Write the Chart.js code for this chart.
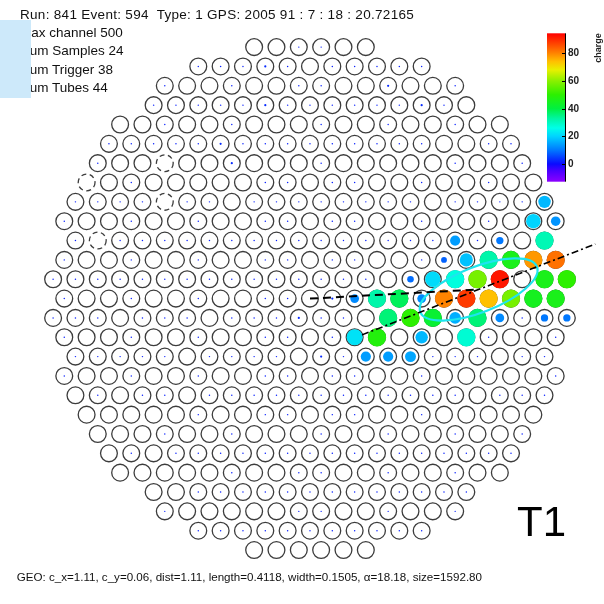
<!DOCTYPE html>
<html>
<head>
<meta charset="utf-8">
<script src="https://cdn.jsdelivr.net/npm/chart.js@4.4.1/dist/chart.umd.min.js"></script>
<style>
  html, body { margin: 0; padding: 0; background: #fff; overflow: hidden; }
  #wrap { position: relative; width: 604px; height: 604px; font-family: "Liberation Sans", Arial, sans-serif; color: #111; }
  #cam { position: absolute; left: 0; top: 0; }
  .t { position: absolute; white-space: pre; }
  .info { font-size: 13.5px; line-height: 13.5px; left: 20px; }
  .bar-label { font-size: 10px; line-height: 10px; font-weight: bold; color: #222; left: 568px; }
  #shade { position: absolute; left: 0; top: 20px; width: 31px; height: 78px; background: #cde9fa; }
</style>
</head>
<body>
<div id="wrap">
  <canvas id="cam" width="604" height="604"></canvas>
</div>
<script>
// ---- event header ----
const runLine = "Run: 841 Event: 594  Type: 1 GPS: 2005 91 : 7 : 18 : 20.72165";
const infoLines = ["Max channel 500", "Num Samples 24", "Num Trigger 38", "Num Tubes 44"];
const telescopeName = "T1";

// ---- camera layout: half-width of every pixel row (in pixel pitches), top row first ----
const rowHalfWidth = [2.5, 5, 6.5, 7, 8.5, 9, 9.5, 10, 10.5, 11, 10.5, 11, 11.5, 11,
                      11.5, 11, 10.5, 11, 10.5, 10, 9.5, 9, 8.5, 7, 6.5, 5, 2.5];

// ---- charge of every pixel, row by row, left to right ----
const chargeRows = [
  "0 0 2 2 0 0",
  "2 2 2 3 2 0 2 2 2 2 2",
  "2 0 0 2 0 0 2 2 0 0 3 0 0 2",
  "2 2 2 2 2 3 2 2 2 2 2 2 3 2 0",
  "0 0 2 0 0 2 0 0 0 2 0 0 2 0 0 2 0 0",
  "2 2 2 2 2 3 2 2 2 2 2 2 2 2 2 0 0 2 2",
  "2 0 0 0 0 0 3 0 0 0 2 0 0 0 0 0 2 0 0 2",
  "0 0 2 0 0 0 0 0 2 2 0 2 2 0 0 2 0 0 2 0 0",
  "2 2 2 2 0 2 2 0 2 2 2 2 2 2 2 2 0 2 2 2 2 17",
  "2 0 0 2 0 0 2 0 0 2 2 0 2 2 0 0 2 0 0 2 0 20 13",
  "2 0 2 2 2 2 2 2 2 2 2 2 2 2 2 2 2 14 2 10 0 31",
  "2 0 0 2 0 0 2 0 0 2 2 0 2 2 0 0 2 8 18 32 46 78 82",
  "2 2 2 2 2 2 2 2 2 2 2 2 2 2 2 0 9 21 27 58 92 0 46 50",
  "2 0 0 2 0 0 2 0 0 2 2 0 3 12 32 38 12 80 88 74 58 45 46",
  "2 2 2 0 2 2 2 0 2 2 2 3 2 2 0 36 50 42 16 36 12 2 10 10",
  "2 0 0 2 0 0 2 0 0 2 2 0 2 22 48 0 17 0 28 2 0 0 2",
  "2 2 2 2 2 0 2 2 2 2 0 3 2 14 14 15 2 2 2 0 2 2",
  "2 0 0 2 0 0 2 0 0 2 2 0 2 2 0 0 2 0 0 0 0 0 2",
  "0 2 0 2 2 0 2 2 2 2 2 2 2 2 2 2 2 2 0 2 2 2",
  "0 0 0 0 0 2 0 0 2 2 0 2 2 0 0 2 0 0 0 0 0",
  "0 0 0 2 0 0 2 0 0 0 2 0 0 2 0 0 2 0 0 2",
  "0 2 0 2 2 2 2 2 2 2 2 2 2 2 2 2 2 2 2",
  "0 0 0 0 0 2 0 0 2 2 0 0 2 0 0 2 0 0",
  "0 0 2 2 2 2 2 2 2 2 2 2 2 2 2",
  "2 0 0 0 0 0 2 2 0 0 2 0 0 2",
  "2 2 2 2 2 2 2 2 2 2 2",
  "0 0 0 0 0 0"
];

// pixels flagged as broken: [row, column position]
const brokenPixels = [[6, -6.5], [7, -10], [8, -6.5], [10, -9.5]];

// ---- Hillas parameters of the image ----
const HILLAS = { cx: 1.11, cy: 0.06, dist: 1.11, length: 0.4118, width: 0.1505, alpha: 18.18, size: 1592.80 };

// ---- colour scale ----
const chargeTicks = [0, 20, 40, 60, 80];
const CHARGE_RANGE = [-12.8, 94.4];
const PALETTE = [
  [-12.8, '#8c00ff'], [-5, '#4a00ff'], [0, '#0a0aff'], [10, '#0078ff'], [20, '#00d4ff'],
  [26, '#00ffe8'], [33, '#00f5a0'], [40, '#00f040'], [50, '#2cf000'], [60, '#8af000'],
  [68, '#e8f000'], [74, '#ffc000'], [81, '#ff7a00'], [88, '#ff3a00'], [94.4, '#ff0000']
];

// ---- geometry (degrees) ----
const PITCH_DEG = 0.147;
const ROW_STEP_DEG = PITCH_DEG * Math.sqrt(3) / 2;
const CENTER_ROW = 13;
const VIEW_X = [-2.04, 1.935];
const VIEW_Y = [-2.01, 1.965];
const OUTLINE_DEG = 0.0553;
const FILL_MAX_DEG = 0.0600;
const SIZE_SATURATION = 25;

function hexToRgb(h) { return [1, 3, 5].map(i => parseInt(h.substr(i, 2), 16)); }
function chargeColor(q) {
  const v = Math.max(CHARGE_RANGE[0], Math.min(CHARGE_RANGE[1], q));
  for (let i = 0; i < PALETTE.length - 1; i++) {
    const [v0, c0] = PALETTE[i], [v1, c1] = PALETTE[i + 1];
    if (v <= v1) {
      const f = (v - v0) / (v1 - v0);
      const a = hexToRgb(c0), b = hexToRgb(c1);
      return 'rgb(' + a.map((x, k) => Math.round(x + (b[k] - x) * f)).join(',') + ')';
    }
  }
  return PALETTE[PALETTE.length - 1][1];
}

// build pixel list from the layout
const brokenKey = new Set(brokenPixels.map(([r, p]) => r + ':' + p));
const pixels = [];
rowHalfWidth.forEach((w, row) => {
  const vals = chargeRows[row].trim().split(/\s+/).map(Number);
  vals.forEach((q, k) => {
    const p = -w + k;
    pixels.push({ x: p * PITCH_DEG, y: (CENTER_ROW - row) * ROW_STEP_DEG, q, broken: brokenKey.has(row + ':' + p) });
  });
});

const phi = Math.atan2(HILLAS.cy, HILLAS.cx) + HILLAS.alpha * Math.PI / 180;
const axisHalf = 2 * HILLAS.length;
const axisLine = [
  { x: HILLAS.cx - axisHalf * Math.cos(phi), y: HILLAS.cy - axisHalf * Math.sin(phi) },
  { x: HILLAS.cx + axisHalf * Math.cos(phi), y: HILLAS.cy + axisHalf * Math.sin(phi) }
];

function degToPx(chart, d) {
  const s = chart.scales.x;
  return Math.abs(s.getPixelForValue(d) - s.getPixelForValue(0));
}

// colour bar box (canvas pixels)
const BAR = { left: 547, right: 565, top: 33.3, bottom: 181.7 };
function barY(v) { return BAR.bottom - (v - CHARGE_RANGE[0]) / (CHARGE_RANGE[1] - CHARGE_RANGE[0]) * (BAR.bottom - BAR.top); }

const cameraExtras = {
  id: 'cameraExtras',
  afterDatasetDraw(chart, args) {
    const ds = chart.data.datasets[args.index];
    const ctx = chart.ctx, sx = chart.scales.x, sy = chart.scales.y;
    if (ds.role === 'outline') {
      ctx.save();
      ctx.strokeStyle = '#3c3c3c';
      ctx.lineWidth = 1.3;
      ctx.setLineDash([5, 3.5]);
      const r = degToPx(chart, OUTLINE_DEG);
      pixels.filter(p => p.broken).forEach(p => {
        ctx.beginPath();
        ctx.arc(sx.getPixelForValue(p.x), sy.getPixelForValue(p.y), r, 0, Math.PI * 2);
        ctx.stroke();
      });
      ctx.restore();
    }
    if (ds.role === 'charge') {
      ctx.save();
      ctx.strokeStyle = '#1ee4ee';
      ctx.lineWidth = 2.2;
      ctx.beginPath();
      ctx.ellipse(sx.getPixelForValue(HILLAS.cx), sy.getPixelForValue(HILLAS.cy),
                  degToPx(chart, HILLAS.length), degToPx(chart, HILLAS.width), -phi, 0, Math.PI * 2);
      ctx.stroke();
      ctx.restore();
    }
  },
  afterDraw(chart) {
    const ctx = chart.ctx;
    ctx.save();
    const g = ctx.createLinearGradient(0, BAR.bottom, 0, BAR.top);
    PALETTE.forEach(([v, c]) => g.addColorStop((v - CHARGE_RANGE[0]) / (CHARGE_RANGE[1] - CHARGE_RANGE[0]), c));
    ctx.fillStyle = g;
    ctx.fillRect(BAR.left, BAR.top, BAR.right - BAR.left, BAR.bottom - BAR.top);
    ctx.strokeStyle = '#000';
    ctx.lineWidth = 1;
    ctx.beginPath();
    ctx.moveTo(BAR.right + 0.5, BAR.top);
    ctx.lineTo(BAR.right + 0.5, BAR.bottom);
    chargeTicks.forEach(v => {
      const y = Math.round(barY(v)) + 0.5;
      ctx.moveTo(BAR.right - 3, y);
      ctx.lineTo(BAR.right + 0.5, y);
    });
    ctx.stroke();
    ctx.restore();
  }
};

const chart = new Chart(document.getElementById('cam'), {
  type: 'scatter',
  data: {
    datasets: [
      {
        role: 'outline', order: 4,
        data: pixels.filter(p => !p.broken),
        pointRadius: c => degToPx(c.chart, OUTLINE_DEG),
        pointBackgroundColor: 'rgba(0,0,0,0)',
        pointBorderColor: '#3c3c3c',
        pointBorderWidth: 1.3
      },
      {
        role: 'charge', order: 3,
        data: pixels.filter(p => p.q > 0),
        pointRadius: c => degToPx(c.chart, FILL_MAX_DEG * Math.min(1, c.raw.q / SIZE_SATURATION)),
        pointBackgroundColor: c => chargeColor(c.raw.q),
        pointBorderWidth: 0
      },
      {
        role: 'dist', order: 2, showLine: true, clip: false,
        data: [{ x: 0, y: 0 }, { x: HILLAS.cx, y: HILLAS.cy }],
        borderColor: '#000', borderWidth: 2, borderDash: [8, 5], pointRadius: 0
      },
      {
        role: 'axis', order: 1, showLine: true, clip: false,
        data: axisLine,
        borderColor: '#000', borderWidth: 1.6, borderDash: [7, 3, 2, 3], pointRadius: 0
      }
    ]
  },
  options: {
    responsive: false,
    animation: false,
    events: [],
    layout: { padding: 0 },
    plugins: { legend: { display: false }, tooltip: { enabled: false } },
    scales: {
      x: { type: 'linear', min: VIEW_X[0], max: VIEW_X[1], display: false },
      y: { type: 'linear', min: VIEW_Y[0], max: VIEW_Y[1], display: false }
    }
  },
  plugins: [cameraExtras]
});

// ---- text ----
const wrap = document.getElementById('wrap');
function addText(txt, cls, style) {
  const d = document.createElement('div');
  d.className = 't ' + cls;
  d.textContent = txt;
  Object.assign(d.style, style);
  wrap.appendChild(d);
  return d;
}
addText(runLine, 'info', { top: (19 - 11.4) + 'px', letterSpacing: '0.3px' });
infoLines.forEach((s, i) => addText(s, 'info', { top: (37.6 + i * 18.2 - 11.4) + 'px' }));
const shade = document.createElement('div');
shade.id = 'shade';
wrap.appendChild(shade);
addText(telescopeName, '', { left: '517px', top: '501px', fontSize: '42px', lineHeight: '42px', color: '#000' });
const geo = 'GEO: c_x=' + HILLAS.cx.toFixed(2) + ', c_y=' + HILLAS.cy.toFixed(2) + ', dist=' + HILLAS.dist.toFixed(2) +
            ', length=' + HILLAS.length.toFixed(4) + ', width=' + HILLAS.width.toFixed(4) +
            ', \u03b1=' + HILLAS.alpha.toFixed(2) + ', size=' + HILLAS.size.toFixed(2);
addText(geo, '', { left: '16.7px', top: '571.4px', fontSize: '11.6px', lineHeight: '11.6px' });
chargeTicks.forEach(v => addText(String(v), 'bar-label', { top: (barY(v) - 4.9) + 'px' }));
addText('charge', '', { left: '597.5px', top: '47.5px', fontSize: '9px', lineHeight: '9px', fontWeight: 'bold', color: '#222',
                         transform: 'translate(-50%,-50%) rotate(-90deg)' });
</script>
</body>
</html>
